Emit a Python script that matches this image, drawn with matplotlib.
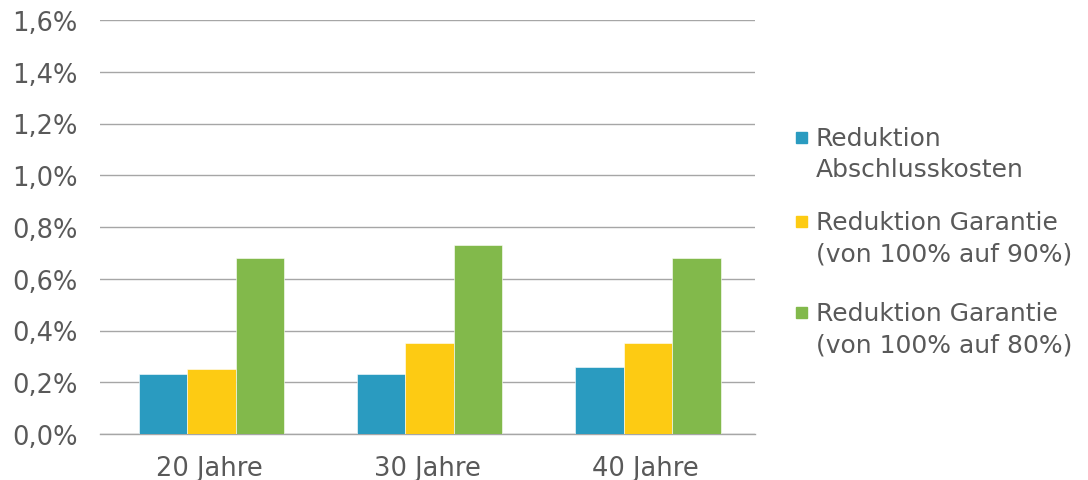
import matplotlib.pyplot as plt
import numpy as np
from matplotlib.patches import Rectangle
from matplotlib.ticker import FuncFormatter

categories = ['20 Jahre', '30 Jahre', '40 Jahre']
series_names = ['Reduktion\nAbschlusskosten',
                'Reduktion Garantie\n(von 100% auf 90%)',
                'Reduktion Garantie\n(von 100% auf 80%)']
abschluss = [0.23, 0.23, 0.26]
garantie_90 = [0.25, 0.35, 0.35]
garantie_80 = [0.68, 0.73, 0.68]
colors = ['#2A9BC0', '#FDCB13', '#82B94B']

text_color = '#595959'
plt.rcParams['font.family'] = ['DejaVu Sans']

fig = plt.figure(figsize=(10.88, 4.81), dpi=100)
ax = fig.add_axes([100 / 1088, 1 - 435 / 481, 655 / 1088, 414 / 481])

x = np.arange(len(categories))
w = 1 / 4.5  # gap width 150%
for i, vals in enumerate([abschluss, garantie_90, garantie_80]):
    ax.bar(x + (i - 1) * w + 0.01, vals, w, color=colors[i], edgecolor='white',
           linewidth=0.4, zorder=3)

ax.set_xlim(-0.5, 2.5)
ax.set_ylim(0, 1.6)
ax.set_yticks(np.arange(0, 1.61, 0.2))
ax.yaxis.set_major_formatter(FuncFormatter(lambda v, p: f'{v:.1f}%'.replace('.', ',')))
ax.set_xticks(x)
ax.set_xticklabels(categories)
ax.grid(axis='y', color='#A6A6A6', linewidth=1.0, zorder=0)
for s in ['left', 'right', 'top']:
    ax.spines[s].set_visible(False)
ax.spines['bottom'].set_color('#A6A6A6')
ax.spines['bottom'].set_linewidth(1.0)
ax.tick_params(axis='both', length=0, labelsize=18.5, colors=text_color)
ax.tick_params(axis='y', pad=16)
ax.tick_params(axis='x', pad=15)

# legend, drawn by hand so the square sits on the first line
legend_tops = [130, 214, 305]
for name, c, top in zip(series_names, colors, legend_tops):
    fig.add_artist(Rectangle((796 / 1088, 1 - (top + 14) / 481), 11 / 1088, 11 / 481,
                             transform=fig.transFigure, color=c))
    fig.text(816 / 1088, 1 - (top - 3) / 481, name, va='top', ha='left',
             fontsize=18, color=text_color, linespacing=1.38)

fig.savefig('out.png', dpi=100)
